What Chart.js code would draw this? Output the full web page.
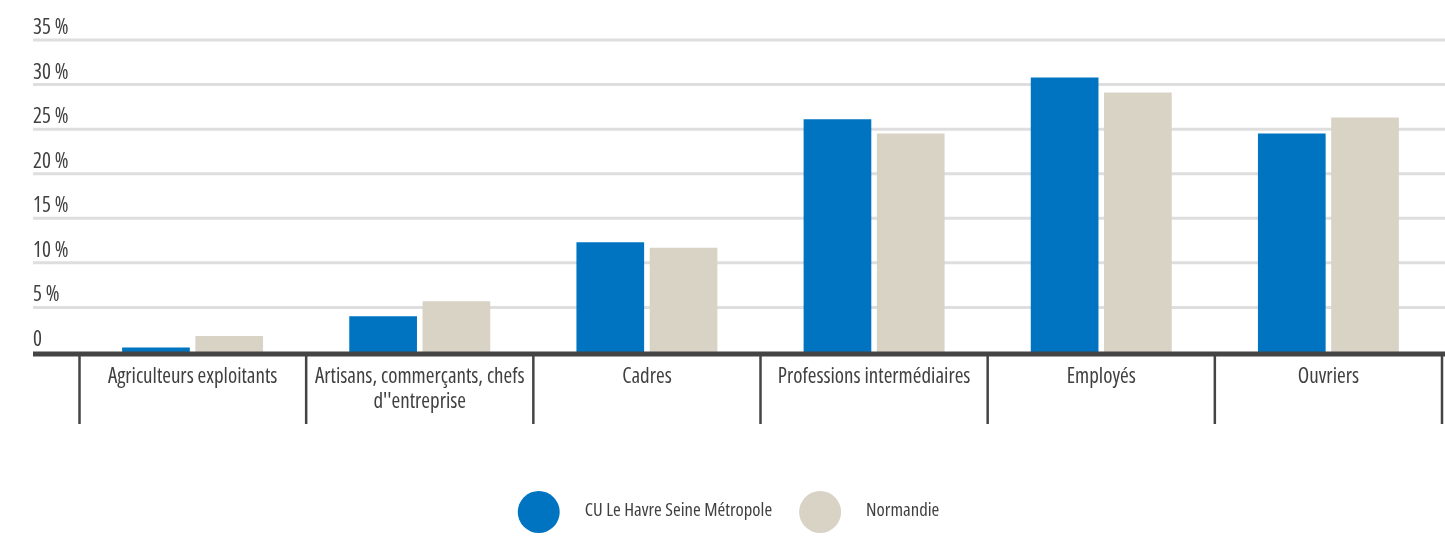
<!DOCTYPE html>
<html><head><meta charset="utf-8">
<script src="https://cdn.jsdelivr.net/npm/chart.js@4.4.1/dist/chart.umd.min.js"></script>
<style>html,body{margin:0;padding:0;background:#fff;} #wrap{width:1445px;height:545px;position:relative;}</style>
</head><body><div id="wrap"><canvas id="c" width="1445" height="545"></canvas></div>
<script>
const categories = ['Agriculteurs exploitants', ['Artisans, commerçants, chefs', "d''entreprise"], 'Cadres', 'Professions intermédiaires', 'Employés', 'Ouvriers'];
const seriesNames = ['CU Le Havre Seine Métropole', 'Normandie'];
const leHavreValues = [0.5, 4.0, 12.3, 26.1, 30.8, 24.5];
const normandieValues = [1.8, 5.7, 11.7, 24.5, 29.1, 26.3];
const yTickValues = [0, 5, 10, 15, 20, 25, 30, 35];
const yTickLabels = ['0', '5 %', '10 %', '15 %', '20 %', '25 %', '30 %', '35 %'];

const FAMILY = "'Open Sans', 'Roboto', sans-serif";
const STRETCH = 'condensed';
const TEXT = '#404040';
const AXIS = '#444444';
const GRID = '#dedede';
const BLUE = '#0074c1';
const BEIGE = '#d9d3c6';

const framePlugin = {
  id: 'frame',
  beforeDatasetsDraw(chart) {
    const { ctx, scales: { y } } = chart;
    ctx.save();
    const left = 33, right = chart.width;
    ctx.font = `${STRETCH} 21px ${FAMILY}`;
    ctx.fillStyle = TEXT; ctx.textAlign = 'left'; ctx.textBaseline = 'alphabetic';
    yTickValues.forEach((v, i) => {
      const py = y.getPixelForValue(v);
      if (v !== 0) {
        ctx.strokeStyle = GRID; ctx.lineWidth = 3;
        ctx.beginPath(); ctx.moveTo(left, py); ctx.lineTo(right, py); ctx.stroke();
      }
      ctx.fillText(yTickLabels[i], left, py - 6);
    });
    ctx.restore();
  },
  afterDatasetsDraw(chart) {
    const { ctx, scales: { x }, chartArea } = chart;
    ctx.save();
    const base = chartArea.bottom;
    ctx.fillStyle = AXIS;
    ctx.fillRect(33, base - 0.5, chart.width - 33, 5);
    ctx.strokeStyle = AXIS; ctx.lineWidth = 2.5;
    const n = categories.length;
    for (let i = 0; i <= n; i++) {
      let px;
      if (i === 0) px = chartArea.left + 0.5;
      else if (i === n) px = chartArea.right;
      else px = (x.getPixelForValue(i - 1) + x.getPixelForValue(i)) / 2;
      ctx.beginPath(); ctx.moveTo(px, base); ctx.lineTo(px, base + 72); ctx.stroke();
    }
    ctx.restore();
  },
  afterDraw(chart) {
    const { ctx } = chart;
    ctx.save();
    const d = 42, gap1 = 25, gap2 = 27;
    ctx.font = `${STRETCH} 18.7px ${FAMILY}`;
    const items = chart.data.datasets.map(ds => ({ label: ds.label, color: ds.backgroundColor, w: ctx.measureText(ds.label).width }));
    const total = items.reduce((s, it) => s + d + gap1 + it.w, 0) + gap2 * (items.length - 1);
    let xx = chart.width / 2 + 6 - total / 2;
    const cy = chart.height - 33;
    items.forEach(it => {
      ctx.fillStyle = it.color;
      ctx.beginPath(); ctx.arc(xx + d / 2, cy, d / 2, 0, Math.PI * 2); ctx.fill();
      ctx.fillStyle = TEXT; ctx.textAlign = 'left'; ctx.textBaseline = 'middle';
      ctx.fillText(it.label, xx + d + gap1, cy - 1);
      xx += d + gap1 + it.w + gap2;
    });
    ctx.restore();
  }
};

new Chart(document.getElementById('c'), {
  type: 'bar',
  data: {
    labels: categories,
    datasets: [
      { label: seriesNames[0], data: leHavreValues, backgroundColor: BLUE, borderWidth: 0 },
      { label: seriesNames[1], data: normandieValues, backgroundColor: BEIGE, borderWidth: 0 }
    ]
  },
  options: {
    responsive: false,
    animation: false,
    events: [],
    categoryPercentage: 0.645,
    barPercentage: 0.924,
    layout: { padding: { left: 79, right: 3, top: 40, bottom: 0 } },
    plugins: { legend: { display: false }, tooltip: { enabled: false } },
    scales: {
      x: {
        grid: { display: false, drawTicks: false },
        border: { display: false },
        ticks: { color: TEXT, font: { family: FAMILY, size: 21, weight: STRETCH, lineHeight: 1.2 }, padding: 12, autoSkip: false, maxRotation: 0, minRotation: 0 },
        afterFit(scale) { scale.height = 193; }
      },
      y: {
        display: false,
        min: 0, max: 35,
        grid: { display: false }
      }
    }
  },
  plugins: [framePlugin]
});
</script>
</body></html>
